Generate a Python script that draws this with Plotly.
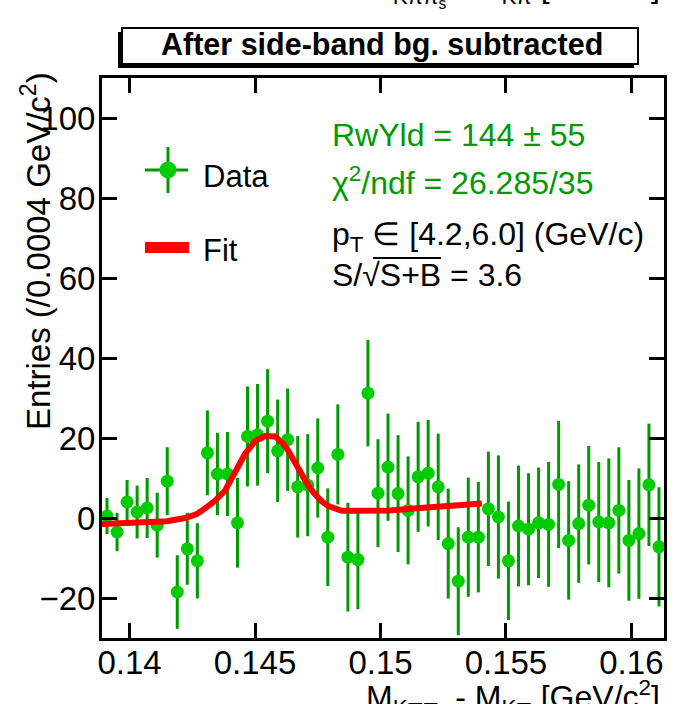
import plotly.graph_objects as go

# ---------------- data ----------------
bin_centers = [0.1391, 0.1395, 0.1399, 0.1403, 0.1407, 0.1411, 0.1415, 0.1419,
               0.1423, 0.1427, 0.1431, 0.1435, 0.1439, 0.1443, 0.1447, 0.1451,
               0.1455, 0.1459, 0.1463, 0.1467, 0.1471, 0.1475, 0.1479, 0.1483,
               0.1487, 0.1491, 0.1495, 0.1499, 0.1503, 0.1507, 0.1511, 0.1515,
               0.1519, 0.1523, 0.1527, 0.1531, 0.1535, 0.1539, 0.1543, 0.1547,
               0.1551, 0.1555, 0.1559, 0.1563, 0.1567, 0.1571, 0.1575, 0.1579,
               0.1583, 0.1587, 0.1591, 0.1595, 0.1599, 0.1603, 0.1607, 0.1611]
entries = [0.5, -3.5, 4.0, 1.5, 2.5, -1.8, 9.2, -18.5,
           -7.7, -10.7, 16.3, 11.0, 11.0, -1.2, 20.4, 20.8,
           24.2, 16.8, 19.6, 7.8, 8.2, 12.5, -4.8, 15.9,
           -9.8, -10.4, 31.2, 6.2, 12.7, 6.1, 1.9, 10.3,
           11.2, 7.8, -6.4, -15.8, -4.8, -4.8, 2.3, 0.25,
           -10.7, -2.0, -2.8, -1.2, -1.6, 8.4, -5.6, -1.4,
           3.2, -1.0, -1.2, 1.9, -5.6, -3.9, 8.3, -7.2]
errors = [4.5, 4.8, 5.5, 6.6, 7.5, 8.1, 8.5, 9.2,
          9.0, 9.4, 10.6, 10.3, 10.5, 11.2, 12.5, 12.7,
          13.0, 12.8, 12.8, 12.7, 12.75, 12.4, 12.2, 12.5,
          13.6, 12.4, 13.3, 13.5, 13.4, 14.6, 13.5, 13.75,
          13.3, 13.3, 13.75, 13.5, 14.9, 13.8, 14.3, 15.4,
          14.8, 15.1, 14.0, 13.8, 15.6, 15.9, 14.8, 14.8,
          14.8, 15.0, 16.1, 15.8, 15.1, 16.3, 15.3, 14.9]

fit_x = [0.13890, 0.13975, 0.14042, 0.14148, 0.14221, 0.14268, 0.14301, 0.14340,
         0.14380, 0.14420, 0.14460, 0.14500, 0.14540, 0.14580, 0.14613, 0.14633,
         0.14660, 0.14686, 0.14712, 0.14739, 0.14765, 0.14792, 0.14820, 0.14846,
         0.14900, 0.15038, 0.15158, 0.15317, 0.15404]
fit_y = [-1.5, -1.3, -1.2, -0.8, 0.0, 1.0, 2.4, 4.3,
         6.8, 11.2, 16.0, 19.2, 20.5, 20.4, 18.5, 16.75,
         13.8, 10.9, 8.1, 5.9, 4.2, 3.0, 2.2, 1.8,
         1.8, 1.9, 2.5, 3.0, 3.6]

x_tickvals = [0.14, 0.145, 0.15, 0.155, 0.16]
x_ticktext = ["0.14", "0.145", "0.15", "0.155", "0.16"]
y_tickvals = [-20, 0, 20, 40, 60, 80, 100]

# ---------------- layout helpers ----------------
W, H = 696, 704
L, R, T, B = 102, 664, 78, 638


def px(x):
    return (x - L) / (R - L)


def py(y):
    return (B - y) / (B - T)


FONT = "Liberation Sans, Arial, Helvetica, sans-serif"
GREEN_TXT = "rgb(0,153,0)"
GREEN_MK = "rgb(0,204,0)"
GREEN_ERR = "rgb(0,153,0)"

fig = go.Figure()

fig.add_trace(go.Scatter(
    x=bin_centers, y=entries, mode="markers",
    marker=dict(color=GREEN_MK, size=13, line=dict(width=0)),
    error_y=dict(type="data", array=errors, visible=True, thickness=3,
                 width=0, color=GREEN_ERR),
    showlegend=False, cliponaxis=True,
))
fig.add_trace(go.Scatter(
    x=fit_x, y=fit_y, mode="lines",
    line=dict(color="rgb(255,0,0)", width=6),
    showlegend=False,
))

axis_common = dict(showline=True, linewidth=3, linecolor="black", mirror="ticks",
                   ticks="inside", ticklen=15, tickwidth=3, tickcolor="black",
                   showgrid=False, zeroline=False,
                   tickfont=dict(family=FONT, size=33, color="black"))

fig.update_xaxes(range=[0.1389, 0.1613], tickvals=x_tickvals, ticktext=x_ticktext,
                 ticklabelstandoff=-7, **axis_common)
fig.update_yaxes(range=[-30, 110], tickvals=y_tickvals, ticklabelstandoff=-3,
                 **axis_common)

shapes = []
# title box with shadow (bottom-left)
shapes.append(dict(type="rect", xref="paper", yref="paper",
                   x0=px(118), x1=px(634), y0=py(68), y1=py(32),
                   fillcolor="black", line=dict(width=0), layer="above"))
shapes.append(dict(type="rect", xref="paper", yref="paper",
                   x0=px(122), x1=px(638), y0=py(64), y1=py(28),
                   fillcolor="white", line=dict(color="black", width=2), layer="above"))
# legend: data marker with error cross
shapes.append(dict(type="line", xref="paper", yref="paper",
                   x0=px(145), x1=px(188), y0=py(170), y1=py(170),
                   line=dict(color=GREEN_ERR, width=3)))
shapes.append(dict(type="line", xref="paper", yref="paper",
                   x0=px(168), x1=px(168), y0=py(147), y1=py(193),
                   line=dict(color=GREEN_ERR, width=3)))
shapes.append(dict(type="circle", xref="paper", yref="paper",
                   x0=px(159.5), x1=px(176.5), y0=py(178.5), y1=py(161.5),
                   fillcolor=GREEN_MK, line=dict(width=0)))
# legend: fit line
shapes.append(dict(type="rect", xref="paper", yref="paper",
                   x0=px(145), x1=px(189), y0=py(253), y1=py(242),
                   fillcolor="rgb(255,0,0)", line=dict(width=0)))
# overline of sqrt
shapes.append(dict(type="line", xref="paper", yref="paper",
                   x0=px(373), x1=px(441), y0=py(258), y1=py(258),
                   line=dict(color="black", width=2)))

ann = []


def add_text(text, x, y, size, color="black", xanchor="left", yanchor="middle",
             angle=0, bold=False):
    if bold:
        text = "<b>" + text + "</b>"
    ann.append(dict(text=text, x=px(x), y=py(y), xref="paper", yref="paper",
                    xanchor=xanchor, yanchor=yanchor, showarrow=False,
                    textangle=angle,
                    font=dict(family=FONT, size=size, color=color)))


add_text("After side-band bg. subtracted", 382, 45, 30.5, xanchor="center", bold=True)
add_text("RwYld = 144 ± 55", 330, 135, 32, color=GREEN_TXT)
add_text("χ<sup>2</sup>/ndf = 26.285/35", 330, 181, 32, color=GREEN_TXT)
add_text("p<sub>T</sub> ∈ [4.2,6.0] (GeV/c)", 330, 236, 32)
add_text("S/√S+B = 3.6", 330, 275, 32)
add_text("Data", 201, 176, 31)
add_text("Fit", 201, 250, 31)
add_text("Entries (/0.0004 GeV/c<sup>2</sup>)", 36, 70, 33, xanchor="center",
         yanchor="top", angle=-90)
add_text("M<sub>Kππ<sub>s</sub></sub> - M<sub>Kπ</sub> [GeV/c<sup>2</sup>]", 662, 673, 32,
         xanchor="right", yanchor="top")
# remnant of the title from the pad above
add_text("M<sub>Kππ<sub>s</sub></sub> - M<sub>Kπ</sub> [GeV/c<sup>2</sup>]", 662, 14, 32,
         xanchor="right", yanchor="bottom")

fig.update_layout(width=W, height=H, margin=dict(l=L, r=W - R, t=T, b=H - B),
                  paper_bgcolor="white", plot_bgcolor="white",
                  shapes=shapes, annotations=ann, showlegend=False,
                  font=dict(family=FONT))

fig.write_html("out.html")
